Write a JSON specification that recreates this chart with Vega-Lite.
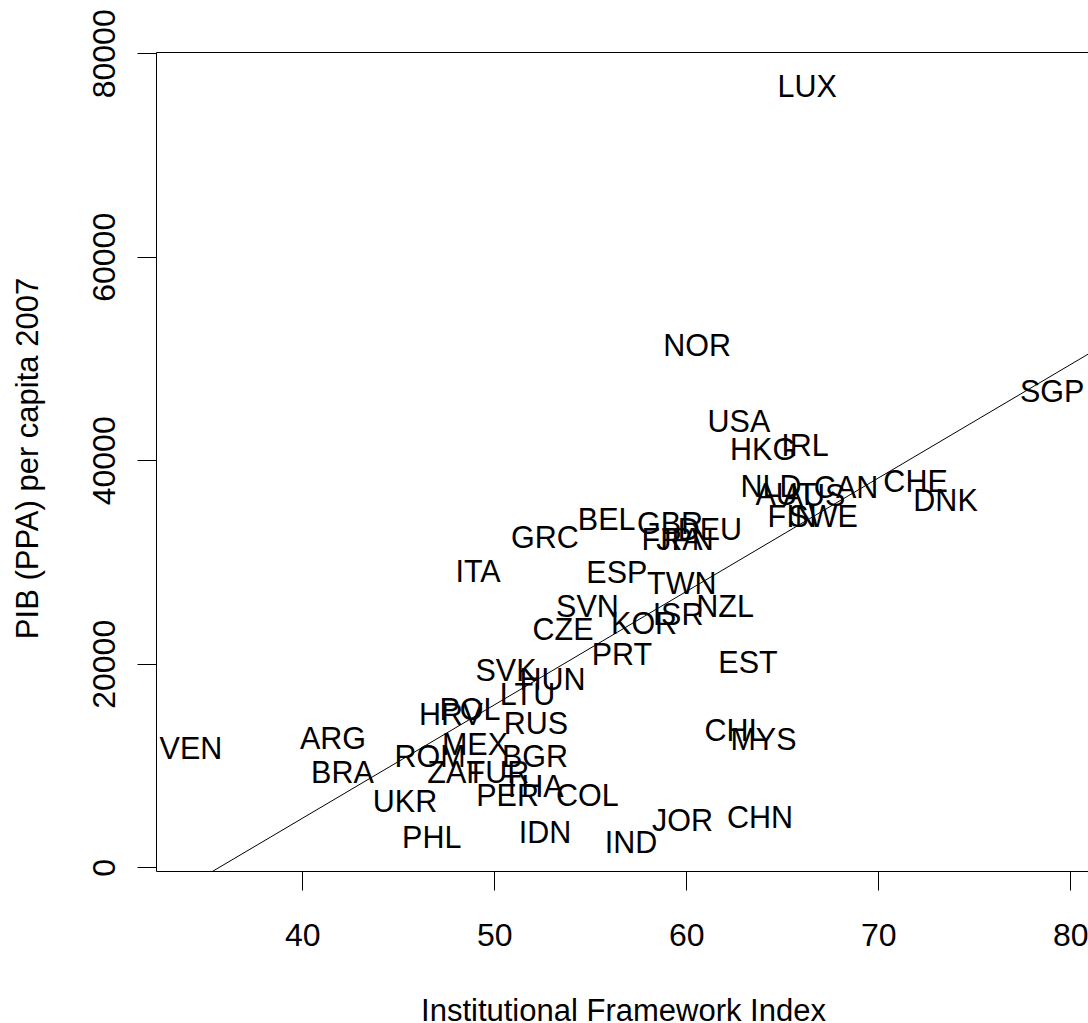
{
  "$schema": "https://vega.github.io/schema/vega-lite/v6.json",
  "autosize": {"type": "none"},
  "padding": {"left": 156, "top": 52, "right": 0, "bottom": 152},
  "width": 932,
  "height": 819,
  "background": "white",
  "view": {"stroke": null},
  "config": {
    "font": "Liberation Sans",
    "axis": {
      "grid": false,
      "domainColor": "black",
      "tickColor": "black",
      "labelColor": "black",
      "titleColor": "black",
      "labelFont": "Liberation Sans",
      "titleFont": "Liberation Sans",
      "labelFontSize": 32,
      "titleFontSize": 31,
      "titleFontWeight": "normal",
      "tickSize": 19,
      "domainWidth": 1,
      "tickWidth": 1
    }
  },
  "datasets": {
    "countries": [
      {"code": "LUX", "ifi": 66.29, "gdp": 76786},
      {"code": "NOR", "ifi": 60.56, "gdp": 51332},
      {"code": "SGP", "ifi": 79.05, "gdp": 46811},
      {"code": "USA", "ifi": 62.74, "gdp": 43833},
      {"code": "HKG", "ifi": 64.00, "gdp": 41091},
      {"code": "IRL", "ifi": 66.18, "gdp": 41504},
      {"code": "NLD", "ifi": 64.41, "gdp": 37474},
      {"code": "AUT", "ifi": 65.19, "gdp": 36688},
      {"code": "AUS", "ifi": 66.65, "gdp": 36590},
      {"code": "CAN", "ifi": 68.32, "gdp": 37376},
      {"code": "CHE", "ifi": 71.94, "gdp": 37966},
      {"code": "DNK", "ifi": 73.50, "gdp": 36098},
      {"code": "FIN", "ifi": 65.51, "gdp": 34526},
      {"code": "SWE", "ifi": 67.12, "gdp": 34526},
      {"code": "BEL", "ifi": 55.85, "gdp": 34231},
      {"code": "GBR", "ifi": 59.15, "gdp": 33838},
      {"code": "DEU", "ifi": 61.23, "gdp": 33248},
      {"code": "FRA", "ifi": 59.26, "gdp": 32265},
      {"code": "JPN", "ifi": 59.93, "gdp": 32265},
      {"code": "GRC", "ifi": 52.64, "gdp": 32413},
      {"code": "ITA", "ifi": 49.15, "gdp": 29120},
      {"code": "ESP", "ifi": 56.38, "gdp": 28973},
      {"code": "TWN", "ifi": 59.76, "gdp": 27990},
      {"code": "NZL", "ifi": 62.02, "gdp": 25681},
      {"code": "SVN", "ifi": 54.85, "gdp": 25681},
      {"code": "ISR", "ifi": 59.57, "gdp": 24894},
      {"code": "KOR", "ifi": 57.80, "gdp": 24010},
      {"code": "CZE", "ifi": 53.58, "gdp": 23420},
      {"code": "PRT", "ifi": 56.65, "gdp": 20963},
      {"code": "EST", "ifi": 63.21, "gdp": 20206},
      {"code": "SVK", "ifi": 50.61, "gdp": 19391},
      {"code": "HUN", "ifi": 53.03, "gdp": 18506},
      {"code": "LTU", "ifi": 51.73, "gdp": 17032},
      {"code": "POL", "ifi": 48.73, "gdp": 15558},
      {"code": "HRV", "ifi": 47.74, "gdp": 15066},
      {"code": "RUS", "ifi": 52.17, "gdp": 14182},
      {"code": "CHL", "ifi": 62.54, "gdp": 13494},
      {"code": "MYS", "ifi": 64.02, "gdp": 12609},
      {"code": "ARG", "ifi": 41.60, "gdp": 12708},
      {"code": "VEN", "ifi": 34.20, "gdp": 11725},
      {"code": "MEX", "ifi": 48.99, "gdp": 12118},
      {"code": "ROM", "ifi": 46.65, "gdp": 10939},
      {"code": "BGR", "ifi": 52.12, "gdp": 10939},
      {"code": "BRA", "ifi": 42.09, "gdp": 9317},
      {"code": "ZAF", "ifi": 48.01, "gdp": 9317},
      {"code": "TUR", "ifi": 50.19, "gdp": 9366},
      {"code": "THA", "ifi": 52.02, "gdp": 7990},
      {"code": "PER", "ifi": 50.69, "gdp": 7106},
      {"code": "COL", "ifi": 54.85, "gdp": 7106},
      {"code": "UKR", "ifi": 45.35, "gdp": 6516},
      {"code": "JOR", "ifi": 59.80, "gdp": 4649},
      {"code": "CHN", "ifi": 63.84, "gdp": 4973},
      {"code": "PHL", "ifi": 46.74, "gdp": 3007},
      {"code": "IDN", "ifi": 52.64, "gdp": 3499},
      {"code": "IND", "ifi": 57.12, "gdp": 2516}
    ],
    "fit": [
      {"ifi": 32.38, "gdp": -3680},
      {"ifi": 81.0, "gdp": 50516}
    ]
  },
  "layer": [
    {
      "data": {"name": "countries"},
      "mark": {"type": "text", "fontSize": 30.5, "font": "Liberation Sans", "color": "black", "align": "center", "baseline": "middle", "dy": 2},
      "encoding": {
        "x": {
          "field": "ifi", "type": "quantitative",
          "title": "Institutional Framework Index",
          "scale": {"domain": [32.38, 80.92], "nice": false, "zero": false},
          "axis": {"orient": "bottom", "values": [40, 50, 60, 70, 80], "labelPadding": 30, "labelBaseline": "top", "labelFlush": false,
                   "titleX": 467, "titleY": 140, "titleBaseline": "middle", "titleAlign": "center"}
        },
        "y": {
          "field": "gdp", "type": "quantitative",
          "title": "PIB (PPA) per capita 2007",
          "scale": {"domain": [-364, 80128], "nice": false, "zero": false},
          "axis": {"values": [0, 20000, 40000, 60000, 80000], "format": "d", "labelAngle": -90, "labelAlign": "center", "labelBaseline": "middle", "labelPadding": 33, "labelFlush": false,
                   "titleX": -128, "titleY": 406, "titleBaseline": "middle", "titleAlign": "center", "titleAngle": -90}
        },
        "text": {"field": "code"}
      }
    },
    {
      "data": {"name": "fit"},
      "mark": {"type": "line", "color": "black", "strokeWidth": 1, "clip": true},
      "encoding": {
        "x": {
          "field": "ifi", "type": "quantitative", "title": null,
          "scale": {"domain": [32.38, 80.92], "nice": false, "zero": false},
          "axis": {"orient": "top", "labels": false, "ticks": false, "domain": true, "title": null}
        },
        "y": {
          "field": "gdp", "type": "quantitative",
          "title": "PIB (PPA) per capita 2007",
          "scale": {"domain": [-364, 80128], "nice": false, "zero": false}
        }
      }
    }
  ],
  "resolve": {"axis": {"x": "independent"}}
}
